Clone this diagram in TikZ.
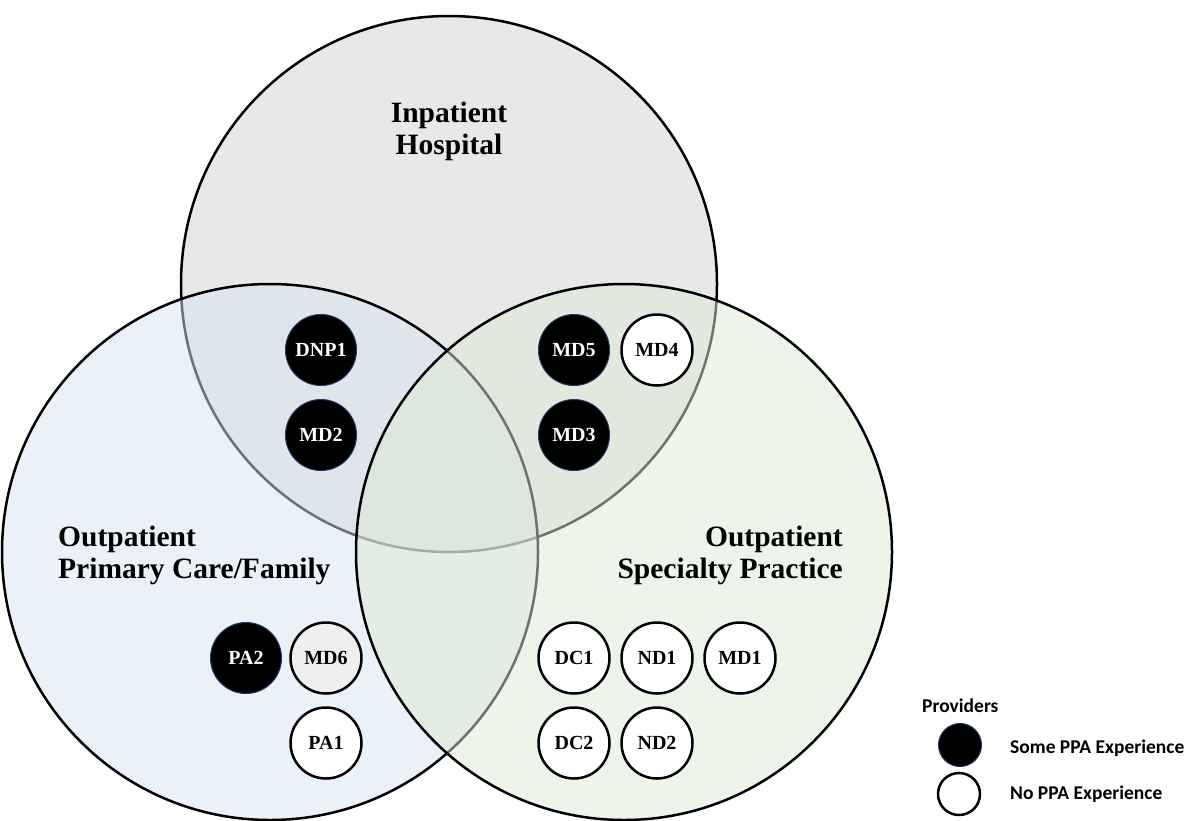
\documentclass[tikz,border=0pt]{standalone}
\usepackage{fontspec}
\setmainfont{Liberation Serif}
\newfontfamily\legendfont{Carlito}
\definecolor{topgray}{HTML}{E8E8E8}
\definecolor{leftblue}{HTML}{D5E3F3}
\definecolor{rightgreen}{HTML}{DCE9D4}
\definecolor{navyedge}{HTML}{1F3864}
\definecolor{lightfill}{HTML}{EFEFEF}
\begin{document}
\begin{tikzpicture}[x=1pt,y=-1pt,
  bigc/.style={line width=2.5pt, draw=black},
  title/.style={inner sep=0pt, font=\fontsize{29.5}{32}\selectfont\bfseries},
  prov/.style={circle, minimum size=71pt, inner sep=0pt, font=\fontsize{20}{20}\selectfont\bfseries},
  some/.style={prov, fill=black, draw=navyedge, line width=1pt, text=white},
  none/.style={prov, fill=white, draw=black, line width=2.5pt},
  greyp/.style={prov, fill=lightfill, draw=black, line width=2.5pt},
  legtext/.style={inner sep=0pt, anchor=west, font=\legendfont\fontsize{19.5}{19.5}\selectfont\bfseries}
]
\useasboundingbox (0,0) rectangle (1189,820);
% big circles
\path[bigc, fill=topgray] (449,284) circle (268pt);
\path[bigc, fill=leftblue, fill opacity=0.5] (270,552) circle (268pt);
\path[bigc, fill=rightgreen, fill opacity=0.5] (624,552) circle (268pt);
% titles
\node[title, align=center] (inp) at (449,131) {Inpatient\\Hospital};
\node[title, align=left, anchor=west] (opc) at (58,555) {Outpatient\\Primary Care/Family};
\node[title, align=right, anchor=east] (osp) at (843,555) {Outpatient\\Specialty Practice};
% providers
\node[some] (dnp1) at (321,350) {DNP1};
\node[some] (md2) at (321,435) {MD2};
\node[some] (md5) at (574,350) {MD5};
\node[none] (md4) at (657,350) {MD4};
\node[some] (md3) at (574,435) {MD3};
\node[some] (pa2) at (246,658) {PA2};
\node[greyp] (md6) at (326,658) {MD6};
\node[none] (pa1) at (326,743) {PA1};
\node[none] (dc1) at (574,658) {DC1};
\node[none] (nd1) at (657,658) {ND1};
\node[none] (md1) at (740,658) {MD1};
\node[none] (dc2) at (574,743) {DC2};
\node[none] (nd2) at (657,743) {ND2};
% legend
\node[legtext] (prv) at (922,706) {Providers};
\node[circle, minimum size=43pt, inner sep=0pt, fill=black, draw=navyedge, line width=1pt] (lsome) at (960,745) {};
\node[circle, minimum size=42pt, inner sep=0pt, fill=white, draw=black, line width=2.5pt] (lnone) at (959,794) {};
\node[legtext] (tsome) at (1010,748) {Some PPA Experience};
\node[legtext] (tnone) at (1010,794) {No PPA Experience};
\end{tikzpicture}
\end{document}
